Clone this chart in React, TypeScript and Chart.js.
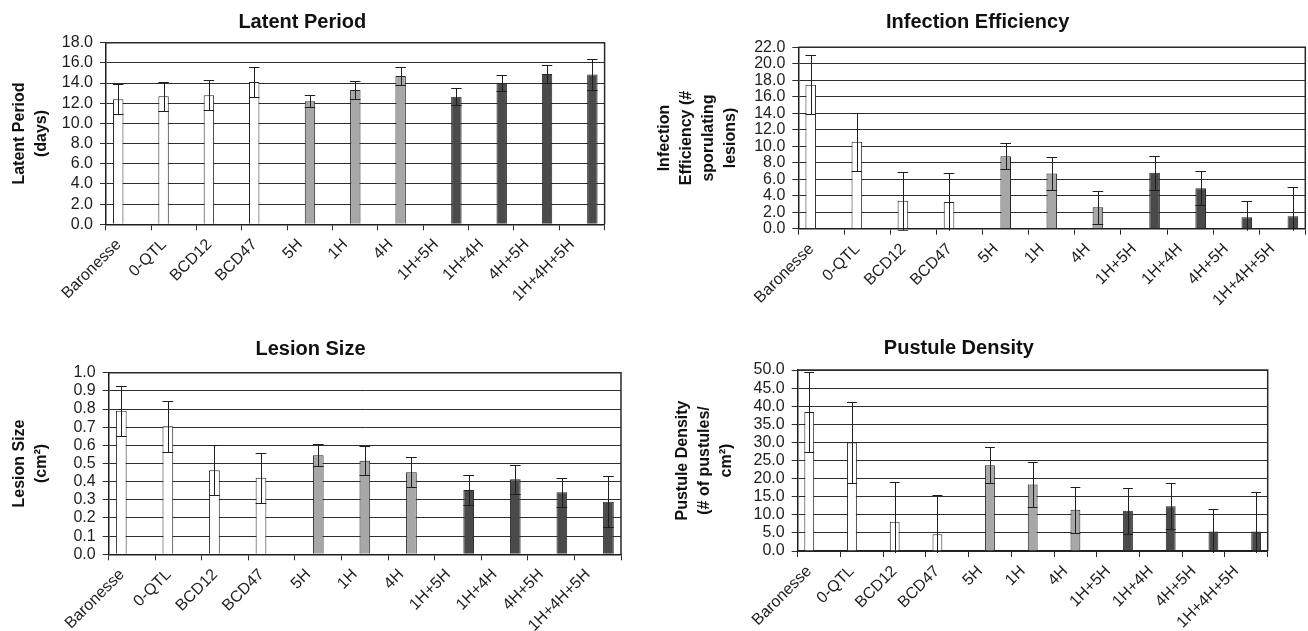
import React, { useEffect, useRef } from 'react';
import { Chart, registerables } from 'chart.js';

Chart.register(...registerables);

const categories = ['Baronesse', '0-QTL', 'BCD12', 'BCD47', '5H', '1H', '4H', '1H+5H', '1H+4H', '4H+5H', '1H+4H+5H'];
// 0 = parents/controls (white), 1 = single QTL (light grey), 2 = QTL combinations (dark grey)
const groups = [0, 0, 0, 0, 1, 1, 1, 2, 2, 2, 2];

const latentMeans = [12.4, 12.7, 12.8, 14.1, 12.2, 13.3, 14.7, 12.65, 14.0, 14.9, 14.85];
const latentErrors = [1.5, 1.45, 1.5, 1.47, 0.58, 0.88, 0.86, 0.86, 0.8, 0.87, 1.5];

const infectionMeans = [17.45, 10.55, 3.4, 3.25, 8.8, 6.7, 2.6, 6.8, 4.9, 1.4, 1.5];
const infectionErrors = [3.56, 3.5, 3.5, 3.5, 1.6, 2.05, 2.0, 2.05, 2.05, 2.0, 3.5];

const lesionMeans = [0.79, 0.705, 0.463, 0.422, 0.545, 0.515, 0.452, 0.354, 0.413, 0.341, 0.29];
const lesionErrors = [0.137, 0.139, 0.139, 0.138, 0.06, 0.08, 0.082, 0.08, 0.08, 0.079, 0.139];

const pustuleMeans = [38.4, 30.0, 8.1, 4.6, 23.7, 18.4, 11.4, 11.1, 12.35, 5.4, 5.4];
const pustuleErrors = [11, 11.2, 10.9, 11, 4.9, 6.3, 6.4, 6.4, 6.35, 6.3, 11];

const groupColors = ['#ffffff', '#a7a7a7', '#4a4a4a'];
const FONT = '"Liberation Sans", Arial, Helvetica, sans-serif';

Chart.defaults.font.family = FONT;
Chart.defaults.color = '#1a1a1a';

const errorBarPlugin = {
  id: 'errorBars',
  afterDatasetsDraw(chart: any, _args: any, opts: any) {
    const errs: number[] = opts.errors || [];
    const ctx = chart.ctx;
    const yScale = chart.scales.y;
    const area = chart.chartArea;
    ctx.save();
    ctx.beginPath();
    ctx.rect(area.left, area.top - 2, area.right - area.left, area.bottom - area.top + 4);
    ctx.clip();
    ctx.strokeStyle = '#1e1e1e';
    ctx.lineWidth = 1;
    chart.data.datasets.forEach((ds: any, di: number) => {
      const meta = chart.getDatasetMeta(di);
      meta.data.forEach((el: any, i: number) => {
        const v = ds.data[i];
        if (v === null || v === undefined) return;
        const e = errs[i];
        const yt = Math.round(yScale.getPixelForValue(v + e)) + 0.5;
        const yb = Math.round(yScale.getPixelForValue(v - e)) + 0.5;
        const x = Math.round(el.x) + 0.5;
        const hw = el.width / 2;
        ctx.beginPath();
        ctx.moveTo(x, yt);
        ctx.lineTo(x, yb);
        ctx.moveTo(el.x - hw, yt);
        ctx.lineTo(el.x + hw, yt);
        ctx.moveTo(el.x - hw, yb);
        ctx.lineTo(el.x + hw, yb);
        ctx.stroke();
      });
    });
    ctx.restore();
  },
  afterDraw(chart: any) {
    const ctx = chart.ctx;
    const a = chart.chartArea;
    ctx.save();
    ctx.strokeStyle = '#2a2a2a';
    ctx.lineWidth = 1.5;
    ctx.beginPath();
    ctx.moveTo(a.left, a.top);
    ctx.lineTo(a.right, a.top);
    ctx.lineTo(a.right, a.bottom);
    ctx.stroke();
    ctx.restore();
  },
};

type PanelCfg = {
  x: number; y: number; w: number; h: number;
  area: { l: number; r: number; t: number; b: number };
  title: string;
  titlePad: { top: number; bottom: number };
  yTitle: string[];
  yTitlePad: number;
  max: number;
  step: number;
  means: number[];
  errors: number[];
};

const panels: PanelCfg[] = [
  {
    x: 0, y: 0, w: 687, h: 315,
    area: { l: 106, r: 604.6, t: 42.7, b: 224.3 },
    title: 'Latent Period', titlePad: { top: 10, bottom: 8.7 },
    yTitle: ['Latent Period', '(days)'], yTitlePad: 8.5,
    max: 18, step: 2, means: latentMeans, errors: latentErrors,
  },
  {
    x: 650, y: 0, w: 719, h: 315,
    area: { l: 798.3, r: 1305.3, t: 47.3, b: 228.7 },
    title: 'Infection Efficiency', titlePad: { top: 10, bottom: 13.3 },
    yTitle: ['Infection', 'Efficiency (#', 'sporulating', 'lesions)'], yTitlePad: 3.5,
    max: 22, step: 2, means: infectionMeans, errors: infectionErrors,
  },
  {
    x: 0, y: 315, w: 687, h: 316,
    area: { l: 108.7, r: 621, t: 372.7, b: 554.3 },
    title: 'Lesion Size', titlePad: { top: 22.7, bottom: 11 },
    yTitle: ['Lesion Size', '(cm\u00B2)'], yTitlePad: 8.5,
    max: 1, step: 0.1, means: lesionMeans, errors: lesionErrors,
  },
  {
    x: 650, y: 315, w: 720, h: 316,
    area: { l: 797.7, r: 1267.7, t: 370, b: 551 },
    title: 'Pustule Density', titlePad: { top: 21.8, bottom: 9.2 },
    yTitle: ['Pustule Density', '(# of pustules/', 'cm\u00B2)'], yTitlePad: 21.8,
    max: 50, step: 5, means: pustuleMeans, errors: pustuleErrors,
  },
];

function Panel({ cfg }: { cfg: PanelCfg }) {
  const ref = useRef<HTMLCanvasElement>(null);
  useEffect(() => {
    if (!ref.current) return;
    const datasets = groupColors.map((color, g) => ({
      label: 'group' + g,
      data: cfg.means.map((v, i) => (groups[i] === g ? v : null)),
      backgroundColor: color,
      borderColor: '#262626',
      borderWidth: 1,
      categoryPercentage: 0.69,
      barPercentage: 1.0,
    }));
    const yWidth = cfg.area.l - cfg.x;
    const xHeight = cfg.h - (cfg.area.b - cfg.y);
    const padRight = cfg.w - (cfg.area.r - cfg.x);
    const chart = new Chart(ref.current, {
      type: 'bar',
      data: { labels: categories, datasets },
      options: {
        responsive: false,
        animation: false,
        devicePixelRatio: 1,
        layout: { padding: { left: 0, right: padRight, top: 0, bottom: 0 } },
        plugins: {
          legend: { display: false },
          tooltip: { enabled: false },
          title: {
            display: true,
            text: cfg.title,
            color: '#111',
            font: { size: 20, weight: 'bold', family: FONT, lineHeight: 1.2 },
            padding: cfg.titlePad,
          },
          errorBars: { errors: cfg.errors },
        } as any,
        scales: {
          x: {
            grid: {
              display: true,
              drawOnChartArea: false,
              drawTicks: true,
              tickLength: 6,
              color: '#2a2a2a',
              offset: true,
            },
            border: { display: true, color: '#1e1e1e', width: 1.5 },
            ticks: {
              autoSkip: false,
              minRotation: 45,
              maxRotation: 45,
              padding: 5,
              labelOffset: -10,
              color: '#1e1e1e',
              font: { size: 16, family: FONT },
            },
            afterFit: (s: any) => { s.height = xHeight; },
          },
          y: {
            min: 0,
            max: cfg.max,
            grid: {
              color: '#2e2e2e',
              lineWidth: 1,
              drawTicks: true,
              tickLength: 6,
            },
            border: { display: true, color: '#1e1e1e', width: 1.5 },
            ticks: {
              stepSize: cfg.step,
              autoSkip: false,
              padding: 7,
              color: '#1e1e1e',
              font: { size: 16, family: FONT },
              callback: (v: any) => Number(v).toFixed(1),
            },
            title: {
              display: true,
              text: cfg.yTitle,
              color: '#111',
              font: { size: 16, weight: 'bold', family: FONT, lineHeight: 1.375 },
              padding: { top: cfg.yTitlePad, bottom: 0 },
            },
            afterFit: (s: any) => { s.width = yWidth; },
          },
        },
      } as any,
      plugins: [errorBarPlugin as any],
    });
    return () => chart.destroy();
  }, []);
  return (
    <canvas
      ref={ref}
      width={cfg.w}
      height={cfg.h}
      style={{ position: 'absolute', left: cfg.x, top: cfg.y, width: cfg.w, height: cfg.h }}
    />
  );
}

export default function App() {
  return (
    <div
      style={{
        position: 'absolute',
        left: 0,
        top: 0,
        width: 1308,
        height: 631,
        overflow: 'hidden',
        background: '#ffffff',
      }}
    >
      {panels.map((p, i) => (
        <Panel key={i} cfg={p} />
      ))}
    </div>
  );
}
